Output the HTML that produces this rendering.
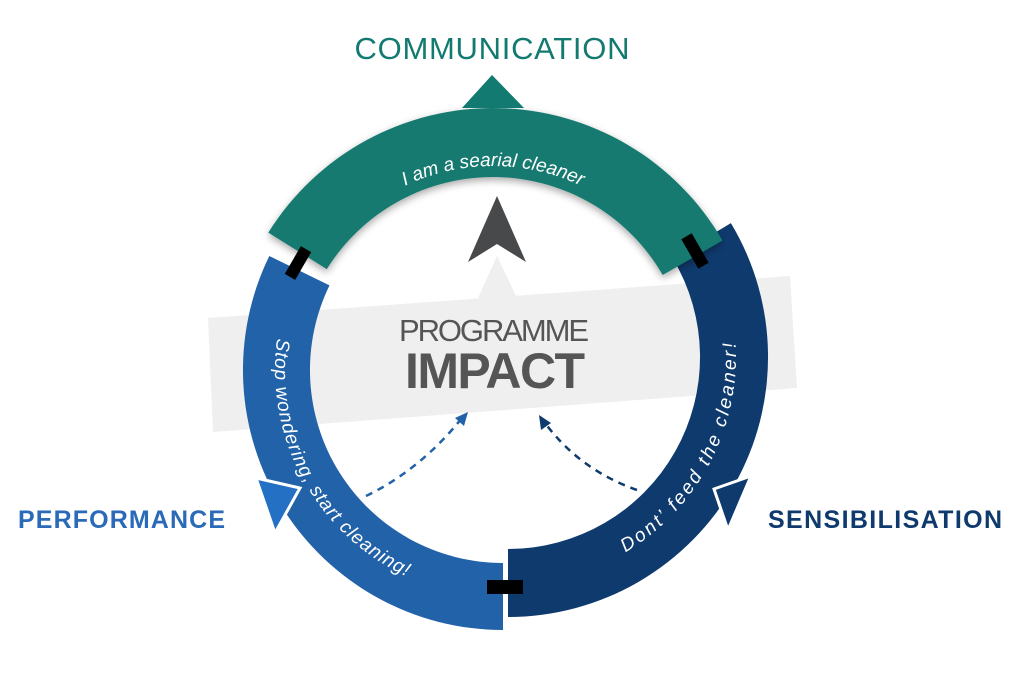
<!DOCTYPE html>
<html><head><meta charset="utf-8"><style>
html,body{margin:0;padding:0;background:#fff;width:1024px;height:692px;overflow:hidden}
svg{display:block}
.lbl{font-family:"Liberation Sans",sans-serif;}
</style></head><body>
<svg id="s" width="1024" height="692" viewBox="0 0 1024 692" xmlns="http://www.w3.org/2000/svg">
<defs>
<filter id="sh" x="-20%" y="-20%" width="140%" height="140%"><feDropShadow dx="0" dy="3" stdDeviation="4" flood-color="#000" flood-opacity="0.35"/></filter>
</defs>
<polygon points="208,318 790,276 797,388 213,432" fill="#efefef"/>
<polygon points="478,298 517,298 497,256" fill="#efefef"/>
<polygon points="497,196 526,262 497,244 468,262" fill="#48494b"/>
<g id="ring"></g>
<text class="lbl" x="492" y="59" text-anchor="middle" font-size="31" fill="#127a70" textLength="275">COMMUNICATION</text>
<text class="lbl" x="18" y="528" font-size="25" font-weight="bold" fill="#2a6ab8" textLength="207">PERFORMANCE</text>
<text class="lbl" x="768" y="528" font-size="25" font-weight="bold" fill="#0f3a6e" textLength="234">SENSIBILISATION</text>
<text class="lbl" x="494" y="341" text-anchor="middle" font-size="31" fill="#555" textLength="190">PROGRAMME</text>
<text class="lbl" x="495" y="388" text-anchor="middle" font-size="50" font-weight="bold" fill="#555" textLength="180">IMPACT</text>
<path d="M366,496 Q420,470 462,418" fill="none" stroke="#2262a8" stroke-width="2.5" stroke-dasharray="7,6"/>
<polygon points="468,412 455,418 464,426" fill="#2262a8"/>
<path d="M637,490 Q580,470 545,423" fill="none" stroke="#0f3a6e" stroke-width="2.5" stroke-dasharray="7,6"/>
<polygon points="539,415 541,430 551,423" fill="#0f3a6e"/>
</svg>
<script>
var ns="http://www.w3.org/2000/svg",g=document.getElementById('ring');
function P(c,r,a){a=a*Math.PI/180;return [(c[0]+r*Math.cos(a)).toFixed(1),(c[1]+r*Math.sin(a)).toFixed(1)];}
function seg(c,ro,ri,a1,a2,fill,filt){var s=P(c,ro,a1),e=P(c,ro,a2),s2=P(c,ri,a2),e2=P(c,ri,a1);
var large=Math.abs(a2-a1)>180?1:0,sw=a2>a1?1:0;
var d="M"+s+" A"+ro+","+ro+" 0 "+large+","+sw+" "+e+" L"+s2+" A"+ri+","+ri+" 0 "+large+","+(1-sw)+" "+e2+" Z";
var p=document.createElementNS(ns,'path');p.setAttribute('d',d);p.setAttribute('fill',fill);if(filt)p.setAttribute('filter','url(#sh)');g.appendChild(p);}
function arcPath(id,c,r,a1,a2){var s=P(c,r,a1),e=P(c,r,a2);var sw=a2>a1?1:0;
var p=document.createElementNS(ns,'path');p.setAttribute('id',id);p.setAttribute('d',"M"+s+" A"+r+","+r+" 0 0,"+sw+" "+e);p.setAttribute('fill','none');g.appendChild(p);}
function ttext(id,str,size,off,anchor,len){var t=document.createElementNS(ns,'text');t.setAttribute('font-family','"Liberation Sans",sans-serif');t.setAttribute('font-size',size);t.setAttribute('font-style','italic');t.setAttribute('fill','#fff');
var tp=document.createElementNS(ns,'textPath');tp.setAttribute('href','#'+id);tp.setAttribute('startOffset',off);if(len)tp.setAttribute('textLength',len);if(anchor)t.setAttribute('text-anchor',anchor);tp.textContent=str;t.appendChild(tp);g.appendChild(t);}
var cb=[503,370],cn=[508,357],ct=[493,373];
seg(cb,260,193,206,90,'#2262a8');
seg(cn,260,192,90,-31,'#0f3a6e');
function poly(pts,fill,stroke){var p=document.createElementNS(ns,'polygon');p.setAttribute('points',pts);p.setAttribute('fill',fill);if(stroke){p.setAttribute('stroke',stroke);p.setAttribute('stroke-width','3');}g.appendChild(p);}
poly("256,478 300,488 275,533","#2470c4","#fff");
poly("751,476 714,489 728,530","#0f3a6e","#fff");
seg(ct,265,196,212,330,'#127a70',true);
poly("462,108 492,75 524,108","#127a70");
function rect(x,y,w,h,rot,cx,cy){var r=document.createElementNS(ns,'rect');r.setAttribute('x',x);r.setAttribute('y',y);r.setAttribute('width',w);r.setAttribute('height',h);r.setAttribute('fill','#000');if(rot)r.setAttribute('transform','rotate('+rot+' '+cx+' '+cy+')');g.appendChild(r);}
rect(487,580,36,14,0);
rect(292,247,12,32,30,298,263);
rect(689,234,12,34,-30,695,251);
arcPath('tp',ct,207,232,308);
ttext('tp','I am a searial cleaner',19,'50%','middle');
arcPath('bp',cb,228,188,100);
ttext('bp','Stop wondering, start cleaning!',19,'0%',null,290);
arcPath('np',cn,228,59,-20);
ttext('np','Dont’ feed the cleaner!',19,'0%',null,249);
</script>
</body></html>
